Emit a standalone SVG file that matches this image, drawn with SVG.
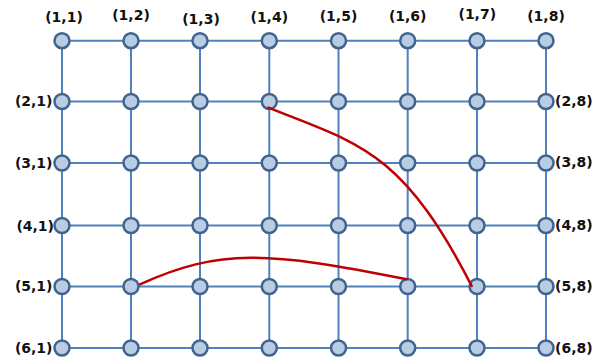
<svg xmlns="http://www.w3.org/2000/svg" width="596" height="362" viewBox="0 0 596 362">
<style>
.grid line{stroke:#4f81bd;stroke-width:2}
.node{fill:#b8cce4;stroke:#41648f;stroke-width:2.5}
.lbl{font-family:"DejaVu Sans",Verdana,sans-serif;font-weight:bold;font-size:14px;fill:#111}
.top{text-anchor:middle}
.left{text-anchor:end}
.path{fill:none;stroke:#c00000;stroke-width:2.5;stroke-linecap:round}
</style>
<rect width="596" height="362" fill="#fff"/>
<g id="connectors" class="grid">
<line x1="62" y1="40.7" x2="546" y2="40.7"/>
<line x1="62" y1="101.5" x2="546" y2="101.5"/>
<line x1="62" y1="163" x2="546" y2="163"/>
<line x1="62" y1="225.5" x2="546" y2="225.5"/>
<line x1="62" y1="286.5" x2="546" y2="286.5"/>
<line x1="62" y1="348" x2="546" y2="348"/>
<line x1="62" y1="40.7" x2="62" y2="348"/>
<line x1="131" y1="40.7" x2="131" y2="348"/>
<line x1="200" y1="40.7" x2="200" y2="348"/>
<line x1="269.3" y1="40.7" x2="269.3" y2="348"/>
<line x1="338.5" y1="40.7" x2="338.5" y2="348"/>
<line x1="407.7" y1="40.7" x2="407.7" y2="348"/>
<line x1="477" y1="40.7" x2="477" y2="348"/>
<line x1="546" y1="40.7" x2="546" y2="348"/>
</g>
<g id="nodes">
<g id="r1">
<circle class="node" cx="62" cy="40.7" r="7.5"/><circle class="node" cx="131" cy="40.7" r="7.5"/><circle class="node" cx="200" cy="40.7" r="7.5"/><circle class="node" cx="269.3" cy="40.7" r="7.5"/><circle class="node" cx="338.5" cy="40.7" r="7.5"/><circle class="node" cx="407.7" cy="40.7" r="7.5"/><circle class="node" cx="477" cy="40.7" r="7.5"/><circle class="node" cx="546" cy="40.7" r="7.5"/>
</g>
<g id="r2">
<circle class="node" cx="62" cy="101.5" r="7.5"/><circle class="node" cx="131" cy="101.5" r="7.5"/><circle class="node" cx="200" cy="101.5" r="7.5"/><circle class="node" cx="269.3" cy="101.5" r="7.5"/><circle class="node" cx="338.5" cy="101.5" r="7.5"/><circle class="node" cx="407.7" cy="101.5" r="7.5"/><circle class="node" cx="477" cy="101.5" r="7.5"/><circle class="node" cx="546" cy="101.5" r="7.5"/>
</g>
<g id="r3">
<circle class="node" cx="62" cy="163" r="7.5"/><circle class="node" cx="131" cy="163" r="7.5"/><circle class="node" cx="200" cy="163" r="7.5"/><circle class="node" cx="269.3" cy="163" r="7.5"/><circle class="node" cx="338.5" cy="163" r="7.5"/><circle class="node" cx="407.7" cy="163" r="7.5"/><circle class="node" cx="477" cy="163" r="7.5"/><circle class="node" cx="546" cy="163" r="7.5"/>
</g>
<g id="r4">
<circle class="node" cx="62" cy="225.5" r="7.5"/><circle class="node" cx="131" cy="225.5" r="7.5"/><circle class="node" cx="200" cy="225.5" r="7.5"/><circle class="node" cx="269.3" cy="225.5" r="7.5"/><circle class="node" cx="338.5" cy="225.5" r="7.5"/><circle class="node" cx="407.7" cy="225.5" r="7.5"/><circle class="node" cx="477" cy="225.5" r="7.5"/><circle class="node" cx="546" cy="225.5" r="7.5"/>
</g>
<g id="r5">
<circle class="node" cx="62" cy="286.5" r="7.5"/><circle class="node" cx="131" cy="286.5" r="7.5"/><circle class="node" cx="200" cy="286.5" r="7.5"/><circle class="node" cx="269.3" cy="286.5" r="7.5"/><circle class="node" cx="338.5" cy="286.5" r="7.5"/><circle class="node" cx="407.7" cy="286.5" r="7.5"/><circle class="node" cx="477" cy="286.5" r="7.5"/><circle class="node" cx="546" cy="286.5" r="7.5"/>
</g>
<g id="r6">
<circle class="node" cx="62" cy="348" r="7.5"/><circle class="node" cx="131" cy="348" r="7.5"/><circle class="node" cx="200" cy="348" r="7.5"/><circle class="node" cx="269.3" cy="348" r="7.5"/><circle class="node" cx="338.5" cy="348" r="7.5"/><circle class="node" cx="407.7" cy="348" r="7.5"/><circle class="node" cx="477" cy="348" r="7.5"/><circle class="node" cx="546" cy="348" r="7.5"/>
</g>
</g>
<g id="paths">
<path class="path" d="M268.3,107.7 C358.3,143.7 401.7,149.5 471.7,286"/>
<path class="path" d="M140,284.3 C220,248.3 266.7,251.3 406.7,279.3"/>
</g>
<g id="labels" class="lbl">
<text class="top" x="64" y="21.5">(1,1)</text>
<text class="top" x="131" y="20">(1,2)</text>
<text class="top" x="201" y="24">(1,3)</text>
<text class="top" x="269.3" y="21.5">(1,4)</text>
<text class="top" x="338.5" y="21">(1,5)</text>
<text class="top" x="407.7" y="21">(1,6)</text>
<text class="top" x="477.3" y="19">(1,7)</text>
<text class="top" x="546" y="21">(1,8)</text>
<text class="left" x="52.5" y="106">(2,1)</text>
<text class="left" x="52.5" y="168.3">(3,1)</text>
<text class="left" x="54" y="231">(4,1)</text>
<text class="left" x="52.5" y="291">(5,1)</text>
<text class="left" x="52.5" y="352.5">(6,1)</text>
<text x="555" y="105.7">(2,8)</text>
<text x="555" y="166.7">(3,8)</text>
<text x="555" y="230">(4,8)</text>
<text x="555" y="291">(5,8)</text>
<text x="555" y="353">(6,8)</text>
</g>
</svg>
